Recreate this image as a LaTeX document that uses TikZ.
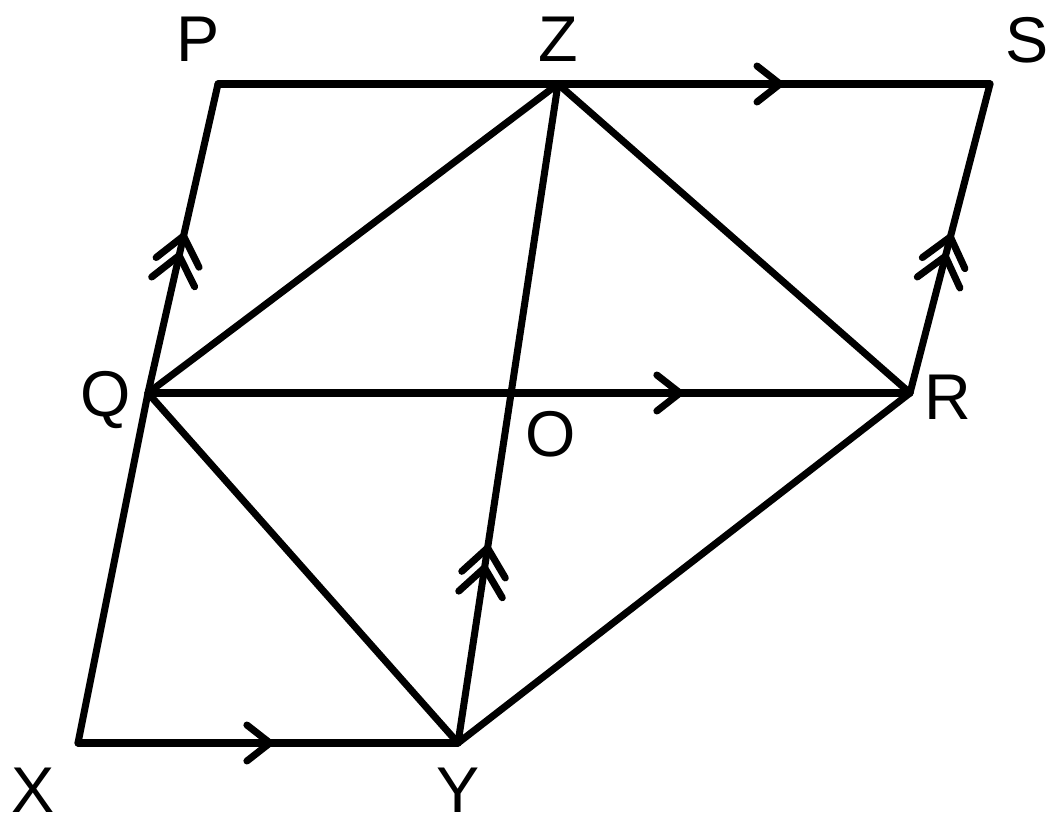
\documentclass[tikz,border=0pt]{standalone}
\usepackage{fontspec}
\setmainfont{Liberation Sans}
\usetikzlibrary{decorations.markings}

\begin{document}
\begin{tikzpicture}
[
   x=0.025cm,y=-0.025cm,
   seg/.style={line width=5pt,line cap=round,line join=round},
   lab/.style={anchor=base,inner sep=0pt,font=\fontsize{46}{50}\selectfont},
   onearrow/.style={postaction={decorate},decoration={markings,
      mark=at position #1 with {\draw[seg] (-0.575cm,0.45cm) -- (0,0) -- (-0.575cm,-0.45cm);}}},
   twoarrow/.style={postaction={decorate},decoration={markings,
      mark=at position #1 with {\draw[seg] (-0.675cm,0.55cm) -- (0,0) -- (-0.675cm,-0.55cm);
                                \draw[seg] (-1.175cm,0.55cm) -- (-0.5cm,0) -- (-1.175cm,-0.55cm);}}}]
\useasboundingbox (0,0) rectangle (1059,826);
\coordinate (P) at (218,84);
\coordinate (Z) at (558,84);
\coordinate (S) at (990,84);
\coordinate (Q) at (148,393);
\coordinate (R) at (910,393);
\coordinate (X) at (78,743);
\coordinate (Y) at (458,743);
% outline
\draw[seg, onearrow=0.505] (X) -- (Y);
\draw[seg] (X) -- (Q);
\draw[seg, twoarrow=0.508] (Q) -- (P);
\draw[seg, onearrow=0.728] (P) -- (S);
\draw[seg, twoarrow=0.505] (R) -- (S);
% inside
\draw[seg, onearrow=0.698] (Q) -- (R);
\draw[seg] (Q) -- (Z) -- (R) -- (Y) -- (Q);
\draw[seg, twoarrow=0.296] (Y) -- (Z);
% labels
\node[lab] (lP) at (198,62) {P};
\node[lab] (lZ) at (558,62) {Z};
\node[lab] (lS) at (1027,63) {S};
\node[lab] (lQ) at (106,417) {Q};
\node[lab] (lR) at (948,419) {R};
\node[lab] (lO) at (551,456) {O};
\node[lab] (lX) at (33,812) {X};
\node[lab] (lY) at (458,812) {Y};
\end{tikzpicture}
\end{document}
